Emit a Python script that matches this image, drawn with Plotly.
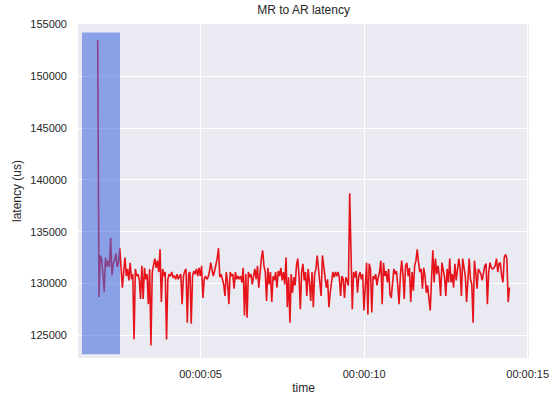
import pandas as pd
import plotly.graph_objects as go

# ---- data ----
title = "MR to AR latency"
x_label = "time"
y_label = "latency (us)"

t_start_s = 1.856   # first sample (seconds)
t_end_s = 14.443    # last sample (seconds)

lat_start = [153500, 128700, 132700, 132400, 131000, 129200, 132500, 131600, 132200, 131600,
             134400, 130800, 131900, 132200, 132900, 131600]
lat_seg1 = [132000, 133400, 131500, 129600, 131100, 132500, 130700, 131400, 130300, 132000,
            130400, 130900, 124600, 131400, 130700, 130900, 130400, 128500, 131700, 128500,
            131500, 130400, 130900, 128000, 131400, 124000, 131100, 131700, 132400, 131500,
            132200, 131100, 133300, 128200, 131400, 130700, 131100]
lat_seg2 = [124600, 130400, 130900, 130700, 131100, 130600, 130700, 130400, 130900, 130400,
            130700, 130900, 128000, 130700, 131200, 131400, 126200, 130900, 131100, 126100,
            130700, 131200, 130900, 131400, 130700, 131500, 130700, 131700, 128600, 130400,
            130700, 130400, 130600, 131100, 132000, 131400, 130700, 131200, 131700, 132400,
            133400, 130600, 130900, 130400, 129900, 128800, 131100, 130100, 128000, 131100,
            130700, 130900, 129500, 131100, 130400, 130700]
lat_seg3 = [130400, 130700, 130100, 131500, 126900, 130900, 126700, 131100, 130600, 130900,
            129900, 130700, 131400, 130400, 131700, 129600, 131500, 132400, 133200, 131700,
            131100, 128300, 131500, 129900, 131100, 128200, 130700, 130300, 131100, 129600,
            131200, 130700, 131500, 130300, 131100, 129900, 132500, 127700, 130600, 126200,
            130900, 129100, 130600, 129800, 131700, 132400, 130700, 127500, 131100, 131900,
            130300, 131100, 128800, 131400, 130100, 128300, 131100]
lat_seg4 = [127700, 130900, 131400, 132700, 131100, 130400, 128800, 132700, 131500, 130700,
            129600, 130400, 127700, 129100, 130400, 131100, 130600, 131100, 130700, 131100,
            130600, 128800, 130700, 130400, 128600, 130600, 130300, 129800, 138700, 130900,
            127500, 131100, 130600, 131200, 129100, 130700, 131100, 130400, 130900, 127400,
            130600, 132000, 127000, 131900, 131400, 127200, 130700, 130400, 130900, 129800,
            130600, 131100, 132200, 128000, 132000, 130700, 131200]
lat_seg5 = [130100, 131400, 129000, 128600, 130400, 131400, 130900, 131200, 129800, 128000,
            130700, 132200, 130900, 128500, 131700, 132000, 130700, 131500, 128200, 131100,
            129300, 131700, 132200, 133300, 132000, 131100, 131400, 129500, 131500, 130700,
            129100, 129800, 128500, 127400, 130400, 133200, 130100, 132400, 130900, 131700,
            130700, 128800, 132000, 131200, 130600, 128800, 131400, 130100, 132400, 130100,
            130900, 129600, 131900, 130300, 131700]
lat_seg6 = [132400, 131400, 128800, 132400, 131200, 130700, 128200, 131100, 132400, 130400,
            129900, 126200, 132200, 131100, 129500, 131400, 131100, 130900, 130300, 131200,
            131700, 131900, 128000, 131100, 132000, 131500, 131400, 131500, 131700, 132400,
            131100, 131900, 132000, 130700, 130100, 132500, 132800, 132400, 128200, 129600]

# highlighted warm-up window
span_t = [1.376, 2.538]
span_lat = [123170, 154240]

x_range_s = [1.254, 15.04]
y_range = [122800, 155050]
tick_seconds = [5, 10, 15]

# ---- build ----
latency = lat_start + lat_seg1 + lat_seg2 + lat_seg3 + lat_seg4 + lat_seg5 + lat_seg6
n = len(latency)
step = (t_end_s - t_start_s) / (n - 1)
secs = [t_start_s + i * step for i in range(n)]
times = pd.to_datetime(secs, unit="s")

def ts(s):
    return pd.to_datetime(s, unit="s")

fig = go.Figure()
fig.add_trace(go.Scatter(x=times, y=latency, mode="lines",
                         line=dict(color="rgb(230,20,26)", width=1.6),
                         showlegend=False, hoverinfo="skip"))

fig.add_shape(type="rect", xref="x", yref="y",
              x0=ts(span_t[0]), x1=ts(span_t[1]), y0=span_lat[0], y1=span_lat[1],
              fillcolor="rgba(65,105,225,0.57)", line=dict(width=0), layer="above")

font_fam = "Arial, Liberation Sans, sans-serif"
txt = "#262626"

fig.update_layout(
    width=551, height=396,
    margin=dict(l=78, r=22, t=24, b=38),
    paper_bgcolor="white", plot_bgcolor="#EAEAF2",
    font=dict(family=font_fam, size=11, color=txt),
    title=dict(text=title, x=0.551, xanchor="center", y=0.975, yanchor="middle",
               font=dict(size=12, color=txt)),
)
fig.update_xaxes(
    type="date", range=[ts(x_range_s[0]), ts(x_range_s[1])], automargin=False,
    tickvals=[ts(s) for s in tick_seconds], tickformat="%H:%M:%S",
    showgrid=True, gridcolor="white", gridwidth=1.2, zeroline=False, showline=False,
    ticks="", ticklabelstandoff=8,
    title=dict(text=x_label, standoff=4, font=dict(size=12, color=txt)),
)
fig.update_yaxes(
    range=y_range, tick0=0, dtick=5000, tickformat="d", automargin=False,
    showgrid=True, gridcolor="white", gridwidth=1.2, zeroline=False, showline=False,
    ticks="", ticklabelstandoff=10,
    title=dict(text=y_label, standoff=6, font=dict(size=12, color=txt)),
)

fig.write_html("out.html", config={"displayModeBar": False},
               post_script="document.body.style.margin='0';document.body.style.overflow='hidden';")
